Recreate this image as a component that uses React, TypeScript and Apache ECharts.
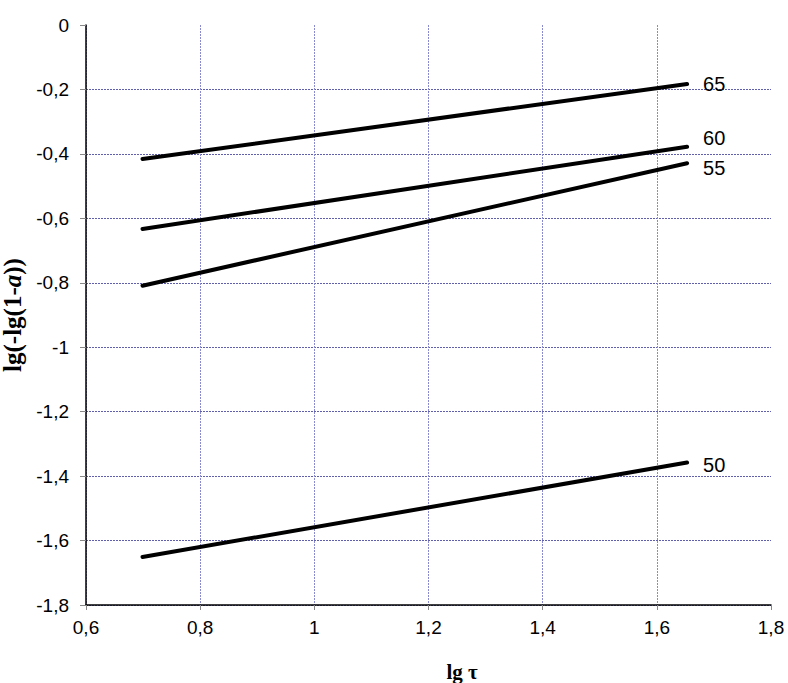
import React, { useEffect, useRef } from "react";
import * as echarts from "echarts";

const lgTau = [0.699, 1.653];
const seriesNames = ["65", "60", "55", "50"];
const y65 = [-0.416, -0.183];
const y60 = [-0.633, -0.378];
const y55 = [-0.809, -0.429];
const y50 = [-1.651, -1.358];
const labelOffsets = [[0, 0], [0, -9], [0, 5], [0, 2]];

const fmt = (v: number) => String(Number(v.toFixed(1))).replace(".", ",");
const SANS = "'Liberation Sans', Arial, sans-serif";
const SERIF = "'Liberation Serif', 'Times New Roman', serif";

export default function App() {
  const ref = useRef<HTMLDivElement>(null);
  useEffect(() => {
    if (!ref.current) return;
    const chart = echarts.init(ref.current, undefined, { renderer: "svg" });
    const all = [y65, y60, y55, y50];
    const series = all.map((ys, i) => ({
      type: "line",
      name: seriesNames[i],
      showSymbol: false,
      symbol: "none",
      lineStyle: { color: "#000", width: 4, cap: "round" },
      endLabel: {
        show: true,
        distance: 16,
        offset: labelOffsets[i],
        formatter: seriesNames[i],
        color: "#000",
        fontSize: 20,
        fontFamily: SANS,
      },
      data: ys.map((y, j) => [lgTau[j], y]),
    }));
    chart.setOption({
      animation: false,
      backgroundColor: "#fff",
      grid: { left: 86, top: 25, right: 17, bottom: 78, containLabel: false, outerBoundsMode: "none" },
      xAxis: {
        type: "value",
        min: 0.6,
        max: 1.8,
        interval: 0.2,
        axisLine: { show: true, onZero: false, lineStyle: { color: "#000", width: 1.5 } },
        axisTick: { show: true, length: 5, lineStyle: { color: "#888" } },
        axisLabel: {
          formatter: fmt,
          color: "#000",
          fontSize: 19,
          margin: 13,
          fontFamily: SANS,
        },
        splitLine: {
          show: true,
          showMaxLine: false,
          lineStyle: { color: "#8a8ad0", type: [2, 1], width: 1 },
        },
      },
      yAxis: {
        type: "value",
        min: -1.8,
        max: 0,
        interval: 0.2,
        name: "{b|lg(-lg(1-}{i|a}{b|))}",
        nameLocation: "middle",
        nameGap: 55,
        nameRotate: 90,
        nameTextStyle: {
          rich: {
            b: { fontFamily: SERIF, fontWeight: "bold", fontSize: 25, color: "#000" },
            i: { fontFamily: SERIF, fontWeight: "bold", fontStyle: "italic", fontSize: 25, color: "#000" },
          },
        },
        axisLine: { show: true, onZero: false, lineStyle: { color: "#000", width: 1.5 } },
        axisTick: { show: true, length: 6, lineStyle: { color: "#888" } },
        axisLabel: {
          formatter: fmt,
          color: "#000",
          fontSize: 19,
          margin: 17,
          fontFamily: SANS,
        },
        splitLine: {
          show: true,
          showMaxLine: false,
          lineStyle: { color: "#5f5fae", type: [2, 1], width: 1 },
        },
      },
      graphic: [
        {
          type: "text",
          x: 462,
          y: 672,
          style: {
            text: "lg τ",
            fontFamily: SERIF,
            fontWeight: "bold",
            fontSize: 21,
            fill: "#000",
            align: "center",
            verticalAlign: "middle",
          },
        },
      ],
      series,
    });
    return () => chart.dispose();
  }, []);
  return <div ref={ref} style={{ width: 788, height: 683, position: "absolute", left: 0, top: 0 }} />;
}
